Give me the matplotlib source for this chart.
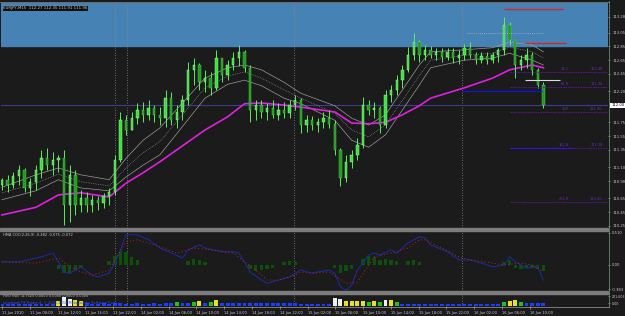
import matplotlib
matplotlib.use("Agg")
import matplotlib.pyplot as plt
import numpy as np

# --- candles (EURJPY M15, one candle ~ 5.6 px) ---
opens = [110.84, 110.92, 110.84, 110.97, 111.06, 110.80, 110.89, 111.06, 111.23, 111.13,
         111.20, 111.23, 110.55, 110.99, 110.55, 110.65, 110.55, 110.63, 110.58, 110.68,
         110.74, 111.20, 111.78, 111.64, 111.81, 111.93, 111.86, 111.96, 111.86, 111.81,
         112.10, 111.78, 111.90, 112.07, 112.51, 112.58, 112.33, 112.39, 112.25, 112.68,
         112.43, 112.58, 112.68, 112.77, 112.54, 111.93, 112.00, 111.90, 111.96, 111.86,
         111.93, 111.88, 112.00, 112.07, 111.71, 111.78, 111.71, 111.75, 111.81, 111.73,
         111.35, 110.94, 111.18, 111.28, 111.42, 112.00, 111.93, 111.96, 111.71, 112.15,
         112.22, 112.36, 112.51, 112.72, 112.91, 112.72, 112.80, 112.72, 112.77, 112.70,
         112.77, 112.68, 112.72, 112.83, 112.72, 112.65, 112.71, 112.65, 112.72, 112.80,
         113.16, 112.94, 112.58, 112.65, 112.72, 112.51, 112.29]
highs = [110.94, 110.99, 111.03, 111.13, 111.09, 110.94, 111.13, 111.35, 111.38, 111.32,
         111.28, 111.35, 111.13, 111.06, 110.77, 110.74, 110.70, 110.68, 110.73, 110.80,
         111.28, 111.90, 111.86, 111.90, 112.03, 112.04, 112.07, 112.00, 111.97, 112.22,
         112.19, 112.00, 112.15, 112.62, 112.68, 112.61, 112.51, 112.48, 112.80, 112.68,
         112.65, 112.77, 112.87, 112.80, 112.58, 112.07, 112.07, 112.03, 112.07, 112.03,
         112.04, 112.07, 112.15, 112.10, 111.86, 111.84, 111.81, 111.90, 111.93, 111.78,
         111.38, 111.28, 111.35, 111.52, 112.12, 112.07, 112.04, 111.99, 112.22, 112.29,
         112.43, 112.58, 112.84, 113.04, 112.94, 112.87, 112.85, 112.83, 112.83, 112.83,
         112.83, 112.80, 112.88, 112.91, 112.77, 112.77, 112.77, 112.77, 112.83, 113.27,
         113.20, 112.94, 112.72, 112.83, 112.77, 112.54, 112.33]
lows = [110.77, 110.74, 110.80, 110.84, 110.74, 110.68, 110.77, 110.94, 111.06, 110.99,
        111.03, 110.26, 110.31, 110.41, 110.45, 110.45, 110.45, 110.48, 110.51, 110.55,
        110.70, 111.18, 111.57, 111.64, 111.73, 111.75, 111.78, 111.75, 111.71, 111.68,
        111.71, 111.67, 111.78, 112.00, 112.29, 112.22, 112.19, 112.15, 112.22, 112.33,
        112.36, 112.51, 112.56, 112.48, 111.75, 111.78, 111.81, 111.78, 111.81, 111.78,
        111.81, 111.81, 111.93, 111.60, 111.61, 111.64, 111.61, 111.67, 111.67, 111.28,
        110.83, 110.89, 111.09, 111.20, 111.38, 111.86, 111.81, 111.60, 111.67, 112.04,
        112.15, 112.25, 112.48, 112.65, 112.62, 112.65, 112.68, 112.65, 112.62, 112.65,
        112.61, 112.59, 112.65, 112.68, 112.59, 112.61, 112.59, 112.61, 112.62, 112.72,
        112.87, 112.39, 112.51, 112.54, 112.43, 112.25, 111.96]
closes = [110.92, 110.84, 110.97, 111.06, 110.80, 110.89, 111.06, 111.23, 111.13, 111.20,
          111.23, 110.55, 110.99, 110.55, 110.65, 110.55, 110.63, 110.58, 110.68, 110.74,
          111.20, 111.78, 111.64, 111.81, 111.93, 111.86, 111.96, 111.86, 111.81, 112.10,
          111.78, 111.90, 112.07, 112.51, 112.58, 112.33, 112.39, 112.25, 112.68, 112.43,
          112.58, 112.68, 112.77, 112.54, 111.93, 112.00, 111.90, 111.96, 111.86, 111.93,
          111.88, 112.00, 112.07, 111.71, 111.78, 111.71, 111.75, 111.81, 111.73, 111.35,
          110.94, 111.18, 111.28, 111.42, 112.00, 111.93, 111.96, 111.71, 112.15, 112.22,
          112.36, 112.51, 112.72, 112.91, 112.72, 112.80, 112.72, 112.77, 112.70, 112.77,
          112.68, 112.72, 112.83, 112.72, 112.65, 112.71, 112.65, 112.72, 112.80, 113.16,
          112.94, 112.58, 112.65, 112.72, 112.51, 112.29, 112.00]

# --- moving averages (sampled at candle indices) ---
ma_idx = [0, 6, 10, 14, 19, 22, 25, 28, 36, 40, 43, 46, 50, 53, 59, 62, 65, 68, 71, 74, 76, 82, 87, 90, 94, 96]
ma_slow = [110.41, 110.52, 110.70, 110.73, 110.67, 110.87, 111.02, 111.18, 111.64, 111.83, 112.02, 112.03, 112.00,
           111.97, 111.90, 111.74, 111.73, 111.75, 111.86, 111.99, 112.10, 112.25, 112.39, 112.51, 112.58, 112.54]
env_up = [110.81, 110.99, 111.09, 110.99, 110.92, 111.23, 111.49, 111.67, 112.39, 112.54, 112.58, 112.51, 112.33,
          112.17, 111.99, 111.81, 111.71, 111.86, 112.22, 112.58, 112.77, 112.80, 112.83, 112.91, 112.87, 112.77]
env_mid = [110.73, 110.87, 111.00, 110.89, 110.83, 111.09, 111.31, 111.47, 112.25, 112.42, 112.48, 112.39, 112.22,
           112.10, 111.88, 111.64, 111.54, 111.71, 112.07, 112.43, 112.65, 112.72, 112.75, 112.84, 112.77, 112.68]
env_lo = [110.63, 110.76, 110.92, 110.80, 110.76, 110.96, 111.13, 111.28, 112.10, 112.30, 112.36, 112.28, 112.10,
          112.02, 111.78, 111.49, 111.39, 111.57, 111.93, 112.29, 112.54, 112.65, 112.68, 112.75, 112.65, 112.58]

# --- drawn objects ---
zone_bottom = 112.85                      # blue rectangle up to top
fib_names = ["38.2", "61.8", "100", "161.8", "261.8"]
fib_prices = [112.48, 112.26, 111.90, 111.38, 110.60]
price_ticks = [113.28, 113.05, 112.85, 112.65, 112.45, 112.20, 111.75, 111.55, 111.35, 111.10, 110.90, 110.65, 110.45, 110.25]

# --- MACD panel ---
macd_idx = [0, 3, 7, 9, 10, 11, 12, 14, 16, 17, 19, 20, 21, 22, 24, 26, 28, 30, 32, 33, 35, 36, 39, 41, 42, 44, 46, 47,
            49, 51, 53, 55, 56, 58, 59, 60, 61, 62, 63, 65, 66, 67, 69, 70, 72, 74, 75, 76, 79, 81, 83, 85, 87, 89, 90,
            91, 93, 95, 96]
macd = [0.05, 0.05, 0.13, 0.19, 0.05, -0.11, -0.13, -0.03, -0.16, -0.19, -0.13, 0.03, 0.24, 0.48, 0.48, 0.40, 0.27,
        0.19, 0.11, 0.24, 0.32, 0.27, 0.21, 0.21, 0.19, -0.11, -0.24, -0.29, -0.24, -0.19, -0.08, -0.13, -0.11, -0.08,
        -0.13, -0.35, -0.40, -0.32, -0.08, 0.16, 0.19, 0.16, 0.24, 0.19, 0.35, 0.45, 0.43, 0.32, 0.21, 0.08, 0.08,
        0.03, -0.03, 0.00, 0.13, 0.05, -0.05, -0.03, -0.24]
sig_idx = [0, 6, 10, 12, 13, 16, 19, 20, 22, 24, 28, 31, 34, 37, 41, 45, 47, 49, 52, 53, 55, 58, 61, 63, 65, 66, 69,
           72, 74, 75, 78, 81, 83, 87, 89, 92, 94, 96]
signal = [0.05, 0.03, 0.11, -0.03, -0.08, -0.16, -0.08, 0.08, 0.37, 0.40, 0.29, 0.19, 0.27, 0.24, 0.19, -0.08, -0.24,
          -0.24, -0.16, -0.11, -0.13, -0.11, -0.29, -0.27, 0.00, 0.13, 0.19, 0.27, 0.40, 0.40, 0.27, 0.13, 0.08, 0.03,
          0.00, 0.03, 0.00, -0.11]
hist_idx = [10, 11, 12, 13, 14, 19, 20, 21, 22, 23, 24, 33, 34, 35, 36, 44, 45, 46, 47, 48, 50, 51, 52, 59, 60, 61, 62,
            64, 65, 66, 67, 68, 69, 70, 72, 73, 74, 89, 90, 91, 92, 93, 94, 95, 96]
hist = [-0.06, -0.12, -0.14, -0.08, -0.05, 0.06, 0.14, 0.22, 0.20, 0.12, 0.08, 0.06, 0.10, 0.08, 0.05, -0.06, -0.10,
        -0.08, -0.06, -0.04, 0.04, 0.06, 0.05, -0.05, -0.12, -0.10, -0.06, 0.10, 0.15, 0.12, 0.08, 0.10, 0.08, 0.06,
        0.06, 0.08, 0.05, 0.05, 0.08, -0.04, -0.06, -0.05, -0.04, -0.06, -0.10]

# --- volume panel ---
volume = [2, 2, 2, 2, 2, 2, 2, 2, 2, 2, 5, 10, 8, 6, 5, 3, 2, 2, 3, 2,
          3, 3, 2, 2, 3, 2, 2, 3, 2, 3, 3, 4, 3, 3, 4, 5, 3, 4, 6, 3,
          3, 3, 3, 3, 3, 3, 3, 3, 3, 3, 3, 3, 3, 2, 2, 2, 2, 2, 2, 9,
          8, 5, 5, 5, 5, 4, 5, 4, 7, 6, 4, 2, 2, 2, 2, 2, 2, 2, 2, 2,
          2, 2, 2, 2, 2, 2, 2, 2, 2, 4, 5, 6, 4, 3, 3, 3, 3]

time_labels = ["11 Jun 2010", "11 Jun 08:00", "11 Jun 12:00", "11 Jun 16:00", "13 Jun 22:00", "14 Jun 02:00",
               "14 Jun 06:00", "14 Jun 10:00", "14 Jun 14:00", "14 Jun 18:00", "14 Jun 22:00", "15 Jun 02:00",
               "15 Jun 06:00", "15 Jun 10:00", "15 Jun 14:00", "15 Jun 18:00", "15 Jun 22:00", "16 Jun 02:00",
               "16 Jun 06:00", "16 Jun 10:00"]
separators = [20, 22.2, 51.8, 81.6]      # day separators (candle units)

BG = "#1b1b1b"
TXT = "#c8c8c8"
W, H = 625, 316
fig = plt.figure(figsize=(W / 100, H / 100), dpi=100, facecolor=BG)


def px_axes(x0, y0, x1, y1):
    a = fig.add_axes([x0 / W, 1 - y1 / H, (x1 - x0) / W, (y1 - y0) / H])
    a.set_facecolor(BG)
    for s in a.spines.values():
        s.set_visible(False)
    return a


X0, X1 = -0.18, 107.45
ax = px_axes(1, 3, 608, 228)
axm = px_axes(1, 231, 608, 291)
axv = px_axes(1, 294, 608, 306)
for a in (ax, axm, axv):
    a.set_xlim(X0, X1)
    a.set_xticks([])
    for s in separators:
        a.axvline(s, color="#8a8a8a", lw=0.6, ls=(0, (1, 2)), zorder=1)

# main price panel
ax.set_ylim(110.221, 113.477)
ax.axhspan(zone_bottom, 114, color="#4682b4", zorder=0)
n = len(closes)
idx = np.arange(n)
o, h, l, c = map(np.array, (opens, highs, lows, closes))
up = c >= o
ax.vlines(idx, l, h, color="#5af05a", lw=0.7, zorder=4)
ax.bar(idx[up], (c - o)[up], bottom=o[up], width=0.42, color="#3adf3a", edgecolor="#a8ffa8", lw=0.3, zorder=5)
ax.bar(idx[~up], (o - c)[~up], bottom=c[~up], width=0.42, color="#1c9c1c", edgecolor="#5ad05a", lw=0.3, zorder=5)

ax.plot(ma_idx, env_up, color="#9a9a9a", lw=0.5, zorder=3)
ax.plot(ma_idx, env_mid, color="#9a9a9a", lw=0.5, ls=(0, (1, 1.5)), zorder=3)
ax.plot(ma_idx, env_lo, color="#9a9a9a", lw=0.5, zorder=3)
ax.plot(ma_idx, ma_slow, color="#e020e0", lw=1.2, zorder=3)

ax.axhline(closes[-1], color="#3c3c8c", lw=0.8, zorder=2)
ax.hlines(113.39, 89, 99.5, color="#dd2020", lw=0.9, zorder=6)
ax.hlines(112.90, 92.8, 100, color="#dd2020", lw=0.9, zorder=6)
ax.hlines(113.04, 82.5, 96, color="#b0b0c8", lw=0.6, ls=(0, (1, 1.5)), zorder=6)
ax.hlines(112.36, 92.7, 99, color="#d8d8f0", lw=0.8, zorder=6)
ax.hlines(112.20, 81.5, 95.8, color="#1010ff", lw=0.8, zorder=6)
ax.hlines(111.38, 90, 101.5, color="#1010ff", lw=0.9, zorder=6)
for name, p in zip(fib_names, fib_prices):
    ax.hlines(p, 90, X1, color="#5a1a9a", lw=0.6, ls=(0, (2, 1)), zorder=6)
    ax.text(100.5, p + 0.01, name, color="#6a2ab0", fontsize=2.6, ha="right", va="bottom", zorder=7)
    ax.text(106.5, p + 0.01, f"{p:.2f}", color="#6a2ab0", fontsize=2.6, ha="right", va="bottom", zorder=7)

ax.yaxis.tick_right()
ax.set_yticks(price_ticks)
ax.set_yticklabels([f"{p:.2f}" for p in price_ticks])
ax.tick_params(axis="y", colors=TXT, labelsize=2.7, length=1.5, width=0.4, pad=1.5)
ax.text(1.005, (closes[-1] - 110.221) / (113.477 - 110.221), f"{closes[-1]:.2f}", transform=ax.transAxes,
        fontsize=2.7, color="black", va="center", ha="left",
        bbox=dict(boxstyle="square,pad=0.15", fc="white", ec="none"))
ax.text(0.004, 0.985, "EURJPY,M15  112.27 112.35 111.91 111.96", transform=ax.transAxes, fontsize=2.8,
        color=TXT, va="top", ha="left", bbox=dict(boxstyle="square,pad=0.2", fc="#101010", ec="none"), zorder=8)

# MACD panel
axm.set_ylim(-0.413, 0.54)
axm.bar(hist_idx, hist, width=0.6, color="#0c500c", zorder=2)
axm.plot(macd_idx, macd, color="#1a2a9a", lw=0.8, zorder=3)
axm.plot(sig_idx, signal, color="#c02020", lw=0.7, ls=(0, (1, 2.5)), zorder=3)
axm.yaxis.tick_right()
axm.set_yticks([0.510, 0.0, -0.383])
axm.set_yticklabels(["0.510", "0.00", "-0.383"])
axm.tick_params(axis="y", colors=TXT, labelsize=2.7, length=1.5, width=0.4, pad=1.5)
axm.text(0.004, 0.96, "HMA-COC(2,26,9) -0.482 -0.075 -0.072", transform=axm.transAxes, fontsize=2.6,
         color=TXT, va="top", ha="left")

# volume panel
vol = np.array(volume)
vcol = np.where(vol >= 7, "#f0f0f0", np.where(vol >= 5, "#e8e020", np.where(vol >= 4, "#20c020", "#1e3cff")))
axv.bar(idx, vol, width=0.7, color=vcol, zorder=2)
axv.set_ylim(0, 13)
axv.yaxis.tick_right()
axv.set_yticks([10.5, 3])
axv.set_yticklabels(["221.603", "0.00"])
axv.tick_params(axis="y", colors=TXT, labelsize=2.3, length=1.5, width=0.4, pad=1)
axv.text(0.004, 0.98, "HVO (N0) -4.7525 0.0000 0.0000 0.0000 0.0000", transform=axv.transAxes, fontsize=2.5,
         color=TXT, va="top", ha="left", zorder=1)
axv.text(0.004, 0.05, "Interbank FX Trader 4, © 2001-2010 MetaQuotes Software Corp.", transform=axv.transAxes,
         fontsize=2.5, color="#3050ff", va="bottom", ha="left", zorder=4)
tick_pos = np.arange(len(time_labels)) * 27.78 / 5.64
axv.set_xticks(tick_pos)
axv.set_xticklabels(time_labels, ha="left")
axv.tick_params(axis="x", colors=TXT, labelsize=2.6, length=2, width=0.4, pad=1.5)

# panel frames / separators
for y0, y1 in [(228, 231), (291, 294)]:
    fig.patches.append(plt.Rectangle((0, 1 - y1 / H), 608 / W, (y1 - y0) / H, transform=fig.transFigure,
                                     color="#7c7c7c", zorder=0))
fig.add_artist(plt.Line2D([608.5 / W] * 2, [1 - 307 / H, 1 - 1 / H], color="#708470", lw=0.6))
fig.add_artist(plt.Line2D([0, 608.5 / W], [1 - 306.5 / H] * 2, color="#a0a0a0", lw=0.5))
fig.add_artist(plt.Line2D([0, 608.5 / W], [1 - 1.5 / H] * 2, color="#7c7c7c", lw=0.6))

fig.savefig("out.png", dpi=100, facecolor=BG)
